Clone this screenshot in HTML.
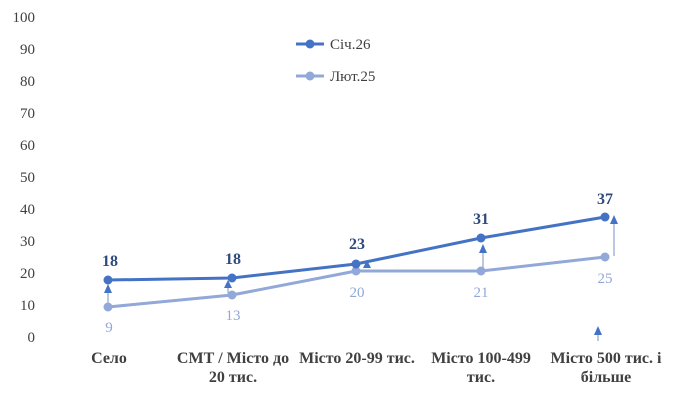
<!DOCTYPE html>
<html><head><meta charset="utf-8"><style>
body{margin:0;background:#fff}
svg{display:block;font-family:"Liberation Serif",serif}
</style></head><body>
<svg width="680" height="401" viewBox="0 0 680 401">
<g font-size="15" fill="#404040" text-anchor="end">
<text x="35" y="342">0</text><text x="35" y="310">10</text><text x="35" y="278">20</text>
<text x="35" y="246">30</text><text x="35" y="214">40</text><text x="35" y="182">50</text>
<text x="35" y="150">60</text><text x="35" y="118">70</text><text x="35" y="86">80</text>
<text x="35" y="54">90</text><text x="35" y="22">100</text>
</g>
<g stroke="#8ea3c9" stroke-width="1.2" fill="#4472c4">
<line x1="108" y1="305" x2="108" y2="290"/><polygon points="104,293 112,293 108,284" stroke="none"/>
<line x1="228" y1="293" x2="228" y2="286"/><polygon points="224,288 232,288 228,280" stroke="none"/>
<polygon points="363,268 371,268 367,260" stroke="none"/>
<line x1="483" y1="270" x2="483" y2="250"/><polygon points="479,253 487,253 483,244" stroke="none"/>
<line x1="614" y1="256" x2="614" y2="222"/><polygon points="610,224 618,224 614,215" stroke="none"/>
<line x1="598" y1="341" x2="598" y2="334"/><polygon points="594,335 602,335 598,326" stroke="none"/>
</g>
<polyline points="108,307 232,295 356,271 481,271 605,257" fill="none" stroke="#91a8d8" stroke-width="3"/>
<g fill="#91a8d8"><circle cx="108" cy="307" r="4.5"/><circle cx="232" cy="295" r="4.5"/><circle cx="356" cy="271" r="4.5"/><circle cx="481" cy="271" r="4.5"/><circle cx="605" cy="257" r="4.5"/></g>
<polyline points="108,280 232,278 356,264 481,238 605,217" fill="none" stroke="#4472c4" stroke-width="3"/>
<g fill="#4472c4"><circle cx="108" cy="280" r="4.5"/><circle cx="232" cy="278" r="4.5"/><circle cx="356" cy="264" r="4.5"/><circle cx="481" cy="238" r="4.5"/><circle cx="605" cy="217" r="4.5"/></g>
<g font-size="16" font-weight="bold" fill="#2f4b7c" text-anchor="middle">
<text x="110" y="266">18</text><text x="233" y="264">18</text><text x="357" y="249">23</text><text x="481" y="224">31</text><text x="605" y="204">37</text>
</g>
<g font-size="15" fill="#91a8d8" text-anchor="middle">
<text x="109" y="332">9</text><text x="233" y="320">13</text><text x="357" y="297">20</text><text x="481" y="297">21</text><text x="605" y="283">25</text>
</g>
<g font-size="16" font-weight="bold" fill="#404040" text-anchor="middle">
<text x="109" y="363">Село</text>
<text x="233" y="363">СМТ / Місто до</text><text x="233" y="382">20 тис.</text>
<text x="357" y="363">Місто 20-99 тис.</text>
<text x="481" y="363">Місто 100-499</text><text x="481" y="382">тис.</text>
<text x="606" y="363">Місто 500 тис. і</text><text x="606" y="382">більше</text>
</g>
<line x1="296" y1="44" x2="324" y2="44" stroke="#4472c4" stroke-width="3"/><circle cx="310" cy="44" r="4.5" fill="#4472c4"/>
<text x="330" y="49" font-size="15" fill="#404040">Січ.26</text>
<line x1="296" y1="76" x2="324" y2="76" stroke="#91a8d8" stroke-width="3"/><circle cx="310" cy="76" r="4.5" fill="#91a8d8"/>
<text x="330" y="81" font-size="15" fill="#404040">Лют.25</text>
</svg>
</body></html>
